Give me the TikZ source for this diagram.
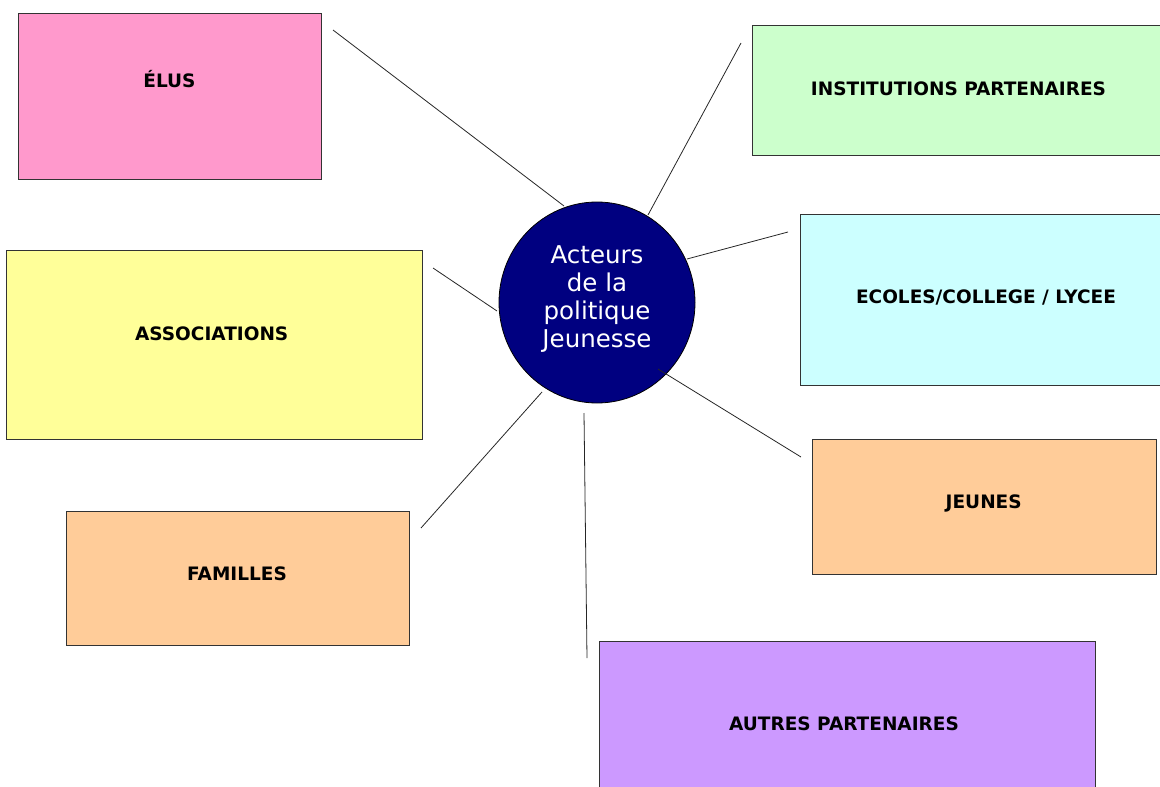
\documentclass[tikz,border=0pt]{standalone}
\usepackage{fontspec}
\setmainfont{DejaVu Sans}
\usetikzlibrary{shapes.geometric}
\definecolor{cpink}{HTML}{FF99CC}
\definecolor{cgreen}{HTML}{CCFFCC}
\definecolor{ccyan}{HTML}{CCFFFF}
\definecolor{cyellow}{HTML}{FFFF99}
\definecolor{cpeach}{HTML}{FFCC99}
\definecolor{cpurple}{HTML}{CC99FF}
\definecolor{cnavy}{HTML}{000080}
\tikzset{
  box/.style={rectangle, draw=black!80, line width=1.1pt, anchor=north west, inner sep=0pt},
  lbl/.style={anchor=base, inner sep=0pt, font=\fontsize{18.5}{21}\selectfont\bfseries, text=black},
  conn/.style={draw=black!85, line width=0.8pt},
}
\begin{document}
\begin{tikzpicture}[x=1pt,y=-1pt]
\useasboundingbox (0,0) rectangle (1160,787);
\clip (0,0) rectangle (1160,787);
% boxes
\node[box, fill=cpink,   minimum width=302.7pt, minimum height=166pt] (elus) at (18,13) {};
\node[box, fill=cgreen,  minimum width=420pt,   minimum height=130pt] (inst) at (752,25) {};
\node[box, fill=ccyan,   minimum width=400pt,   minimum height=171pt] (ecol) at (800,214) {};
\node[box, fill=cyellow, minimum width=415.7pt, minimum height=189pt] (asso) at (6,250) {};
\node[box, fill=cpeach,  minimum width=344pt,   minimum height=135pt] (jeun) at (812,439) {};
\node[box, fill=cpeach,  minimum width=343pt,   minimum height=134pt] (fami) at (66,511) {};
\node[box, fill=cpurple, minimum width=496pt,   minimum height=200pt] (autr) at (599,641) {};
% labels
\node[lbl] (telus) at (169.5,87.3) {ÉLUS};
\node[lbl] (tinst) at (958.5,95.7) {INSTITUTIONS PARTENAIRES};
\node[lbl] (tecol) at (986,303.3) {ECOLES/COLLEGE / LYCEE};
\node[lbl] (tasso) at (211.7,340) {ASSOCIATIONS};
\node[lbl] (tjeun) at (983.7,508.7) {JEUNES};
\node[lbl] (tfami) at (237,580) {FAMILLES};
\node[lbl] (tautr) at (844,730.5) {AUTRES PARTENAIRES};
% centre
\node[ellipse, draw=black, line width=0.8pt, fill=cnavy, minimum width=196pt, minimum height=201pt, inner sep=0pt] (centre) at (597,302.5) {};
\node[anchor=north, inner sep=0pt, align=center, text=white, font=\fontsize{24.5}{28.3}\selectfont] (ctext) at (597,245) {Acteurs\\de la\\politique\\Jeunesse};
% connector end points
\coordinate (elusA) at (333,30);  \coordinate (elusB) at (564,206);
\coordinate (instA) at (741,43);  \coordinate (instB) at (648,215);
\coordinate (ecolA) at (788,232); \coordinate (ecolB) at (687,259);
\coordinate (assoA) at (433,268); \coordinate (assoB) at (497,311);
\coordinate (jeunA) at (801,457); \coordinate (jeunB) at (658,369);
\coordinate (famiA) at (421,528); \coordinate (famiB) at (542,392);
\coordinate (autrA) at (587,658); \coordinate (autrB) at (584,413);
\draw[conn] (elusA) -- (elusB);
\draw[conn] (instA) -- (instB);
\draw[conn] (ecolA) -- (ecolB);
\draw[conn] (assoA) -- (assoB);
\draw[conn] (jeunA) -- (jeunB);
\draw[conn] (famiA) -- (famiB);
\draw[conn] (autrA) -- (autrB);
\end{tikzpicture}
\end{document}
